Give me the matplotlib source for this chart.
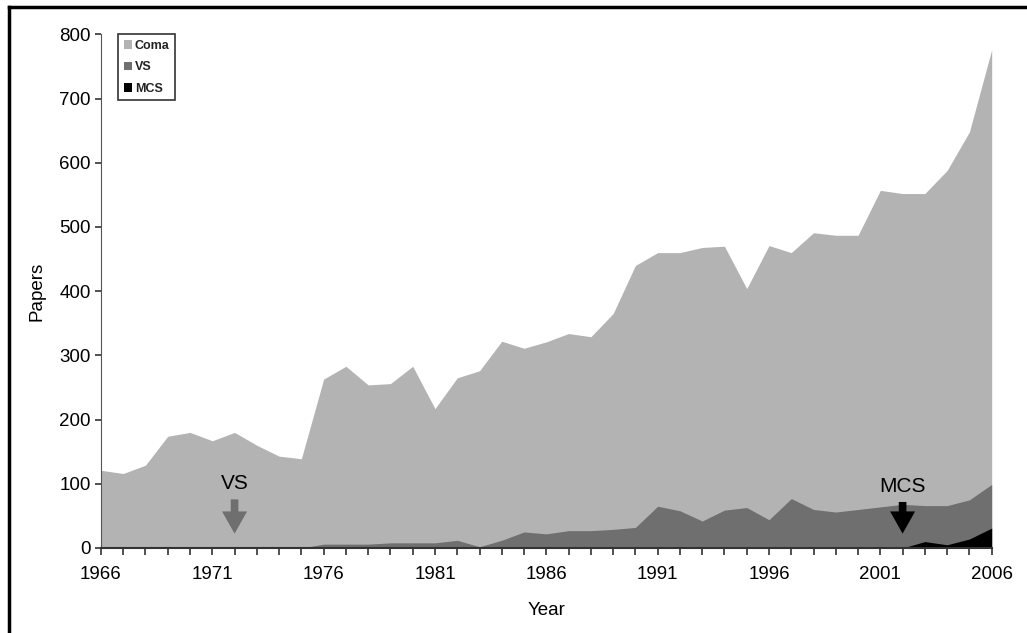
import numpy as np
import matplotlib.pyplot as plt
from matplotlib.lines import Line2D

plt.rcParams['font.family'] = ['Liberation Sans', 'DejaVu Sans']

years = list(range(1966, 2007))

# papers per year (areas overlap: coma drawn first, VS and MCS in front)
coma = [121, 116, 129, 174, 180, 167, 180, 160, 143, 139,
        263, 283, 254, 256, 283, 217, 265, 276, 322, 311,
        321, 334, 329, 365, 440, 460, 460, 468, 470, 404,
        471, 460, 491, 487, 487, 557, 552, 552, 588, 648,
        776]
vs = [0, 0, 0, 0, 0, 0, 1, 0, 0, 0,
      6, 6, 6, 8, 8, 8, 12, 2, 12, 25,
      22, 27, 27, 29, 32, 65, 58, 42, 59, 63,
      44, 77, 60, 56, 60, 64, 68, 66, 66, 75,
      99]
mcs = [0] * 36 + [0, 10, 5, 14, 31]

series_names = ['Coma', 'VS', 'MCS']
series_colors = ['#b3b3b3', '#6f6f6f', '#000000']

fig = plt.figure(figsize=(10.27, 6.33), dpi=100)
ax = fig.add_axes([0.0983, 0.1343, 0.8673, 0.8115])

for vals, name, col in zip([coma, vs, mcs], series_names, series_colors):
    ax.fill_between(years, 0, vals, color=col, linewidth=0, label=name)

ax.set_xlim(1966, 2006)
ax.set_ylim(0, 800)
ax.set_xticks(range(1966, 2007, 5))
ax.set_xticks(years, minor=True)
ax.set_yticks(range(0, 801, 100))
ax.tick_params(axis='both', labelsize=13.5, direction='out', colors='#333333',
               labelcolor='black', length=5, width=1.2)
ax.tick_params(axis='x', which='minor', length=5, width=1.2, colors='#333333')
ax.tick_params(axis='y', length=4)
ax.tick_params(axis='x', pad=8)

for side in ['top', 'right']:
    ax.spines[side].set_visible(False)
ax.spines['left'].set_color('#555555')
ax.spines['bottom'].set_color('#333333')
ax.spines['bottom'].set_linewidth(1.5)

ax.set_xlabel('Year', fontsize=13.5, labelpad=14)
ax.set_ylabel('Papers', fontsize=13.5, labelpad=10)

# arrows marking when the terms appeared
arrow_style = 'simple,head_length=1.6,head_width=1.8,tail_width=0.55'
ax.annotate('', xy=(1972, 18), xytext=(1972, 80),
            arrowprops=dict(arrowstyle=arrow_style, color='#6f6f6f', lw=0))
ax.text(1972, 100, 'VS', ha='center', va='center', fontsize=15)
ax.annotate('', xy=(2002, 18), xytext=(2002, 76),
            arrowprops=dict(arrowstyle=arrow_style, color='black', lw=0))
ax.text(2002, 96, 'MCS', ha='center', va='center', fontsize=15)

leg = ax.legend(loc='upper left', bbox_to_anchor=(0.019, 1.0),
                prop={'size': 9, 'weight': 'bold'},
                frameon=True, fancybox=False, handlelength=0.7, handleheight=0.7,
                handletextpad=0.2, borderpad=0.45, labelspacing=0.75,
                borderaxespad=0)
leg.get_frame().set_edgecolor('black')
leg.get_frame().set_linewidth(1.2)
for t in leg.get_texts():
    t.set_color('#222222')

# outer frame (top and left edges only)
fig.add_artist(Line2D([0.0085, 1.0], [0.9895, 0.9895], color='black', lw=2.5,
                      transform=fig.transFigure))
fig.add_artist(Line2D([0.0085, 0.0085], [0.0, 0.9895], color='black', lw=2.5,
                      transform=fig.transFigure))

fig.savefig('out.png', dpi=100)
